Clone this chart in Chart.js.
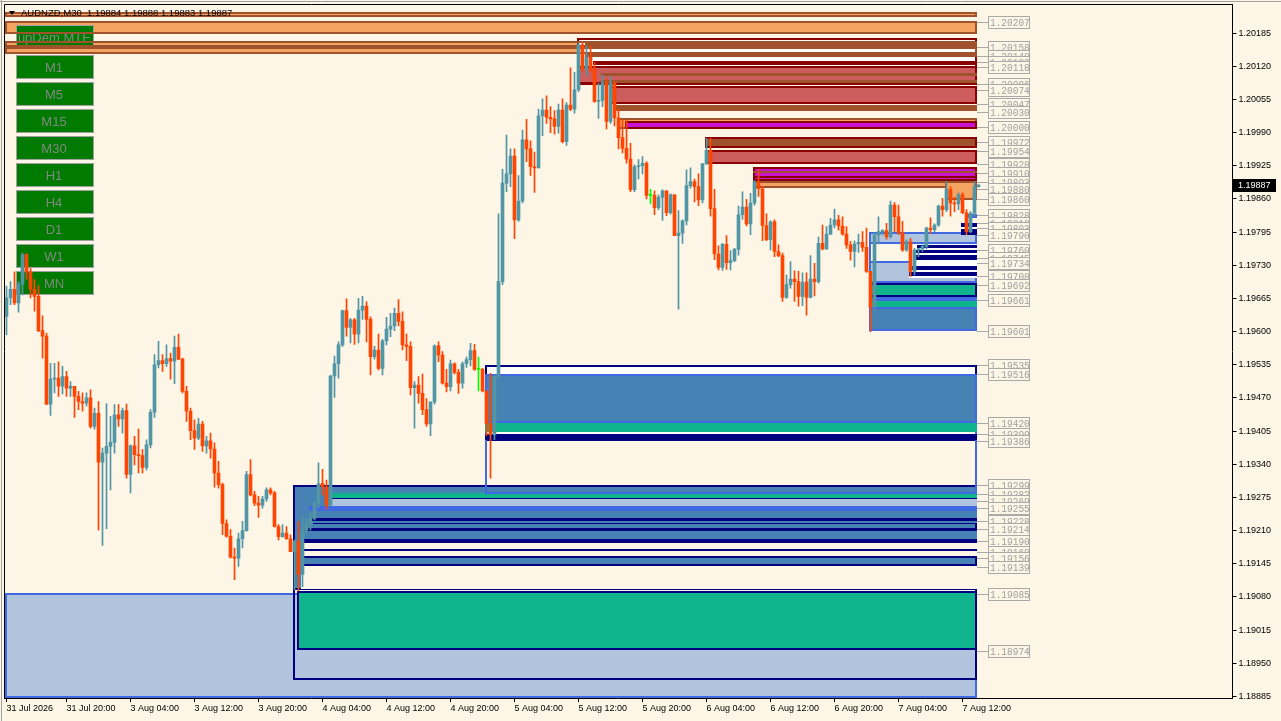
<!DOCTYPE html>
<html>
<head>
<meta charset="utf-8">
<script src="https://cdn.jsdelivr.net/npm/chart.js@4.4.1/dist/chart.umd.min.js"></script>
<style>
  html, body { margin: 0; padding: 0; background: #FDF5E6; overflow: hidden; }
  canvas { display: block; }
</style>
</head>
<body>
<canvas id="chart" width="1281" height="721"></canvas>
<script>
// AUDNZD M30 candles (open = previous close)
const firstOpen = 1.19630;
const closes = [
  1.19666, 1.19683, 1.19656, 1.19693, 1.19751, 1.19717, 1.19683, 1.19669, 1.19602, 1.19591,
  1.19458, 1.19507, 1.19509, 1.19493, 1.19512, 1.19489, 1.19493, 1.19473, 1.19463, 1.19460,
  1.19470, 1.19414, 1.19440, 1.19344, 1.19362, 1.19375, 1.19383, 1.19437, 1.19429, 1.19445,
  1.19320, 1.19376, 1.19359, 1.19357, 1.19334, 1.19378, 1.19442, 1.19535, 1.19543, 1.19537,
  1.19547, 1.19542, 1.19569, 1.19546, 1.19483, 1.19444, 1.19406, 1.19391, 1.19419, 1.19376,
  1.19386, 1.19370, 1.19323, 1.19300, 1.19224, 1.19199, 1.19158, 1.19156, 1.19194, 1.19210,
  1.19320, 1.19280, 1.19264, 1.19260, 1.19272, 1.19290, 1.19284, 1.19218, 1.19198, 1.19205,
  1.19194, 1.19169, 1.19189, 1.19124, 1.19211, 1.19223, 1.19234, 1.19264, 1.19302, 1.19296,
  1.19260, 1.19513, 1.19537, 1.19574, 1.19641, 1.19608, 1.19623, 1.19595, 1.19642, 1.19650,
  1.19624, 1.19551, 1.19564, 1.19528, 1.19582, 1.19605, 1.19611, 1.19636, 1.19620, 1.19574,
  1.19571, 1.19490, 1.19495, 1.19479, 1.19447, 1.19419, 1.19462, 1.19572, 1.19554, 1.19499,
  1.19492, 1.19537, 1.19520, 1.19499, 1.19537, 1.19545, 1.19563, 1.19526, 1.19526, 1.19484,
  1.19420, 1.19398, 1.19512, 1.19698, 1.19891, 1.19909, 1.19944, 1.19819, 1.19856, 1.19976,
  1.19958, 1.19923, 1.19921, 1.20023, 1.20034, 1.20020, 1.20017, 1.20002, 1.20034, 1.19972,
  1.20044, 1.20036, 1.20074, 1.20162, 1.20114, 1.20138, 1.20114, 1.20051, 1.20053, 1.20087,
  1.20012, 1.20087, 1.20019, 1.19980, 1.19959, 1.19938, 1.19878, 1.19923, 1.19925, 1.19930,
  1.19867, 1.19867, 1.19843, 1.19863, 1.19876, 1.19833, 1.19868, 1.19788, 1.19793, 1.19817,
  1.19886, 1.19894, 1.19884, 1.19858, 1.19929, 1.19955, 1.19841, 1.19752, 1.19726, 1.19771,
  1.19735, 1.19739, 1.19761, 1.19829, 1.19844, 1.19811, 1.19852, 1.19893, 1.19880, 1.19808,
  1.19780, 1.19815, 1.19757, 1.19749, 1.19667, 1.19692, 1.19703, 1.19698, 1.19669, 1.19697,
  1.19667, 1.19703, 1.19698, 1.19773, 1.19762, 1.19791, 1.19809, 1.19819, 1.19807, 1.19791,
  1.19770, 1.19757, 1.19772, 1.19775, 1.19765, 1.19718, 1.19648, 1.19789, 1.19796, 1.19798,
  1.19786, 1.19848, 1.19825, 1.19794, 1.19760, 1.19776, 1.19718, 1.19760, 1.19762, 1.19767,
  1.19803, 1.19800, 1.19809, 1.19846, 1.19839, 1.19879, 1.19852, 1.19850, 1.19868, 1.19833,
  1.19796, 1.19832, 1.19884, 1.19887
];
const highs = [
  1.19689, 1.19698, 1.19717, 1.19698, 1.19754, 1.19753, 1.19724, 1.19702, 1.19690, 1.19631,
  1.19597, 1.19538, 1.19538, 1.19541, 1.19532, 1.19522, 1.19502, 1.19493, 1.19483, 1.19480,
  1.19480, 1.19486, 1.19450, 1.19463, 1.19372, 1.19459, 1.19434, 1.19457, 1.19457, 1.19450,
  1.19458, 1.19378, 1.19395, 1.19409, 1.19369, 1.19388, 1.19447, 1.19555, 1.19581, 1.19555,
  1.19574, 1.19558, 1.19591, 1.19595, 1.19548, 1.19493, 1.19450, 1.19427, 1.19430, 1.19424,
  1.19395, 1.19401, 1.19382, 1.19346, 1.19303, 1.19231, 1.19212, 1.19176, 1.19205, 1.19228,
  1.19326, 1.19349, 1.19287, 1.19277, 1.19277, 1.19294, 1.19294, 1.19287, 1.19222, 1.19222,
  1.19218, 1.19202, 1.19192, 1.19228, 1.19238, 1.19234, 1.19244, 1.19267, 1.19343, 1.19330,
  1.19309, 1.19515, 1.19552, 1.19580, 1.19642, 1.19664, 1.19626, 1.19626, 1.19665, 1.19669,
  1.19659, 1.19629, 1.19571, 1.19595, 1.19585, 1.19628, 1.19636, 1.19646, 1.19663, 1.19639,
  1.19595, 1.19580, 1.19502, 1.19512, 1.19517, 1.19469, 1.19463, 1.19574, 1.19580, 1.19561,
  1.19526, 1.19544, 1.19539, 1.19526, 1.19541, 1.19550, 1.19577, 1.19575, 1.19550, 1.19528,
  1.19430, 1.19518, 1.19515, 1.19831, 1.19918, 1.19985, 1.19958, 1.19958, 1.19906, 1.19995,
  1.20016, 1.19974, 1.19952, 1.20036, 1.20056, 1.20062, 1.20041, 1.20033, 1.20046, 1.20056,
  1.20049, 1.20117, 1.20108, 1.20165, 1.20166, 1.20160, 1.20160, 1.20127, 1.20087, 1.20103,
  1.20096, 1.20100, 1.20090, 1.20036, 1.20015, 1.20015, 1.19969, 1.19927, 1.19937, 1.19943,
  1.19933, 1.19879, 1.19876, 1.19868, 1.19878, 1.19876, 1.19870, 1.19868, 1.19837, 1.19819,
  1.19917, 1.19921, 1.19899, 1.19909, 1.19930, 1.19979, 1.19979, 1.19879, 1.19768, 1.19773,
  1.19788, 1.19759, 1.19763, 1.19846, 1.19874, 1.19859, 1.19871, 1.19896, 1.19918, 1.19884,
  1.19831, 1.19817, 1.19819, 1.19770, 1.19754, 1.19711, 1.19737, 1.19719, 1.19718, 1.19715,
  1.19715, 1.19749, 1.19734, 1.19785, 1.19809, 1.19806, 1.19822, 1.19840, 1.19828, 1.19825,
  1.19806, 1.19777, 1.19778, 1.19791, 1.19796, 1.19803, 1.19718, 1.19793, 1.19825, 1.19800,
  1.19812, 1.19856, 1.19853, 1.19848, 1.19816, 1.19780, 1.19783, 1.19763, 1.19763, 1.19770,
  1.19805, 1.19823, 1.19811, 1.19848, 1.19861, 1.19894, 1.19884, 1.19863, 1.19872, 1.19872,
  1.19839, 1.19835, 1.19894, 1.19888
];
const lows = [
  1.19594, 1.19653, 1.19653, 1.19638, 1.19672, 1.19703, 1.19666, 1.19640, 1.19600, 1.19548,
  1.19457, 1.19436, 1.19480, 1.19473, 1.19478, 1.19473, 1.19473, 1.19432, 1.19447, 1.19444,
  1.19454, 1.19411, 1.19409, 1.19211, 1.19181, 1.19214, 1.19290, 1.19362, 1.19414, 1.19401,
  1.19313, 1.19284, 1.19339, 1.19323, 1.19323, 1.19329, 1.19372, 1.19432, 1.19529, 1.19522,
  1.19532, 1.19507, 1.19498, 1.19545, 1.19480, 1.19424, 1.19388, 1.19369, 1.19388, 1.19365,
  1.19362, 1.19352, 1.19295, 1.19293, 1.19202, 1.19197, 1.19156, 1.19114, 1.19140, 1.19176,
  1.19209, 1.19278, 1.19259, 1.19236, 1.19254, 1.19267, 1.19280, 1.19217, 1.19192, 1.19197,
  1.19193, 1.19169, 1.19094, 1.19092, 1.19100, 1.19205, 1.19211, 1.19231, 1.19254, 1.19280,
  1.19252, 1.19258, 1.19471, 1.19509, 1.19571, 1.19591, 1.19578, 1.19575, 1.19578, 1.19624,
  1.19580, 1.19515, 1.19546, 1.19525, 1.19515, 1.19574, 1.19590, 1.19602, 1.19611, 1.19564,
  1.19543, 1.19476, 1.19411, 1.19460, 1.19437, 1.19414, 1.19396, 1.19458, 1.19541, 1.19497,
  1.19482, 1.19484, 1.19517, 1.19479, 1.19489, 1.19530, 1.19533, 1.19524, 1.19484, 1.19482,
  1.19396, 1.19313, 1.19388, 1.19509, 1.19692, 1.19874, 1.19884, 1.19782, 1.19816, 1.19852,
  1.19933, 1.19906, 1.19873, 1.19921, 1.19984, 1.20008, 1.19990, 1.19987, 1.19989, 1.19970,
  1.19965, 1.20033, 1.20028, 1.20070, 1.20110, 1.20101, 1.20110, 1.20049, 1.20018, 1.20041,
  1.19997, 1.20008, 1.20003, 1.19958, 1.19950, 1.19930, 1.19874, 1.19874, 1.19899, 1.19909,
  1.19860, 1.19850, 1.19829, 1.19839, 1.19818, 1.19827, 1.19830, 1.19788, 1.19644, 1.19773,
  1.19809, 1.19881, 1.19854, 1.19847, 1.19852, 1.19927, 1.19826, 1.19741, 1.19721, 1.19720,
  1.19722, 1.19721, 1.19737, 1.19750, 1.19820, 1.19807, 1.19790, 1.19848, 1.19865, 1.19778,
  1.19778, 1.19760, 1.19747, 1.19747, 1.19659, 1.19665, 1.19685, 1.19659, 1.19650, 1.19651,
  1.19632, 1.19666, 1.19670, 1.19695, 1.19760, 1.19761, 1.19790, 1.19803, 1.19799, 1.19789,
  1.19763, 1.19740, 1.19727, 1.19755, 1.19757, 1.19716, 1.19600, 1.19646, 1.19772, 1.19790,
  1.19781, 1.19783, 1.19796, 1.19790, 1.19757, 1.19757, 1.19708, 1.19711, 1.19747, 1.19757,
  1.19762, 1.19793, 1.19796, 1.19806, 1.19826, 1.19835, 1.19826, 1.19835, 1.19839, 1.19831,
  1.19790, 1.19794, 1.19826, 1.19883
];

const xTickIdx = [0, 15, 31, 47, 63, 79, 95, 111, 127, 143, 159, 175, 191, 207, 223, 239];
const xTickLabels = ['31 Jul 2026', '31 Jul 20:00', '3 Aug 04:00', '3 Aug 12:00', '3 Aug 20:00',
  '4 Aug 04:00', '4 Aug 12:00', '4 Aug 20:00', '5 Aug 04:00', '5 Aug 12:00', '5 Aug 20:00',
  '6 Aug 04:00', '6 Aug 12:00', '6 Aug 20:00', '7 Aug 04:00', '7 Aug 12:00'];
const yTicks = [1.20185, 1.20120, 1.20055, 1.19990, 1.19925, 1.19860, 1.19795, 1.19730, 1.19665,
  1.19600, 1.19535, 1.19470, 1.19405, 1.19340, 1.19275, 1.19210, 1.19145, 1.19080, 1.19015,
  1.18950, 1.18885];

// supply / demand zones: start bar (-1 = left edge), end bar (null = last bar), top, bottom, kind
const zoneStart = [-1, -1, -1, -1, -1,
  72, 72, 74, 74, 74, 74, 74, 75, 76, 76, 76, 76, 77, 81, 81, 81, 73,
  120, 120, 120, 120, 120,
  216, 216, 216, 226, 228, 227, 227, 226, 226, 216, 216, 216, 216, 240, 239, 239,
  143, 143, 145, 145, 147, 149, 149, 151, 152, 153, 155,
  175, 175, 187, 187, 187, 187, 235];
const zoneEnd = [null, null, null, null, null,
  null, null, null, null, null, null, null, null, null, null, null, null, null, null, null, null, null,
  null, null, null, null, null,
  null, null, null, null, null, null, null, null, null, null, null, null, null, null, null, null,
  null, null, null, null, null, null, null, null, null, null, null,
  null, null, null, null, null, null, null];
const zoneTop = [1.20226, 1.20209, 1.20170, 1.20158, 1.19088,
  1.19300, 1.19300, 1.19210, 1.19194, 1.19186, 1.19174, 1.19160, 1.19216, 1.19235, 1.19258,
  1.19248, 1.19229, 1.19225, 1.19284, 1.19274, 1.19271, 1.19091,
  1.19535, 1.19516, 1.19516, 1.19420, 1.19399,
  1.19795, 1.19795, 1.19738, 1.19772, 1.19770, 1.19760, 1.19750, 1.19729, 1.19717,
  1.19695, 1.19668, 1.19660, 1.19648, 1.19831, 1.19813, 1.19805,
  1.20176, 1.20121, 1.20166, 1.20146, 1.20130, 1.20107, 1.20093, 1.20081, 1.20044, 1.20019, 1.20013,
  1.19981, 1.19956, 1.19923, 1.19915, 1.19905, 1.19895, 1.19895];
const zoneBottom = [1.20217, 1.20183, 1.20158, 1.20144, 1.18882,
  1.18917, 1.19093, 1.19194, 1.19186, 1.19096, 1.19171, 1.19140, 1.19210, 1.19229, 1.19248,
  1.19235, 1.19222, 1.19222, 1.19274, 1.19271, 1.19258, 1.18977,
  1.19386, 1.19282, 1.19420, 1.19403, 1.19388,
  1.19601, 1.19772, 1.19695, 1.19705, 1.19763, 1.19754, 1.19740, 1.19721, 1.19709,
  1.19668, 1.19660, 1.19648, 1.19601, 1.19823, 1.19789, 1.19802,
  1.20083, 1.20085, 1.20158, 1.20138, 1.20123, 1.20101, 1.20087, 1.20046, 1.20032, 1.19997, 1.19997,
  1.19960, 1.19929, 1.19895, 1.19911, 1.19901, 1.19882, 1.19858];
const zoneKind = ['mtf', 'mtf', 'mtf', 'mtf', 'lsb',
  'outlineNavy', 'steelNavy', 'steel', 'navy', 'cream', 'navy', 'steelNavy', 'navy', 'navy', 'royal',
  'steel', 'steel', 'navy', 'green', 'navy', 'lsbPlain', 'greenNavy',
  'whiteNavy', 'outlineRoyal', 'steel', 'green', 'navy',
  'outlineRoyal', 'lsb', 'lsb', 'white', 'navy', 'navy', 'navy', 'navy', 'navy',
  'greenNavy', 'royal', 'green', 'steel', 'royal', 'navy', 'white',
  'whiteRed', 'indian', 'sienna', 'sienna', 'darkred', 'sienna', 'sienna', 'indian', 'sienna', 'sandy', 'magenta',
  'siennaRed', 'indian', 'magenta', 'sienna', 'darkred', 'sandy', 'sandy'];

const levelPrices = [1.20207, 1.20158, 1.20140, 1.20129, 1.20118, 1.20086, 1.20074, 1.20047, 1.20030,
  1.20000, 1.19972, 1.19954, 1.19928, 1.19910, 1.19893, 1.19880, 1.19860, 1.19828, 1.19812,
  1.19803, 1.19790, 1.19760, 1.19745, 1.19734, 1.19708, 1.19692, 1.19661, 1.19601, 1.19535,
  1.19516, 1.19420, 1.19399, 1.19386, 1.19299, 1.19282, 1.19269, 1.19255, 1.19228, 1.19214,
  1.19190, 1.19169, 1.19156, 1.19139, 1.19085, 1.18974];

const buttons = ['upDem MTF', 'M1', 'M5', 'M15', 'M30', 'H1', 'H4', 'D1', 'W1', 'MN'];
const titleText = 'AUDNZD,M30  1.19884 1.19888 1.19883 1.19887';
const lastPrice = 1.19887;

const BG = '#FDF5E6';
const STYLE = {
  mtf: { fill: '#F4A460', line: '#A0522D' },
  sandy: { fill: '#F4A460', line: '#A0522D' },
  whiteRed: { fill: '#FFFFFF', line: '#8B0000' },
  indian: { fill: '#CD5C5C', line: '#8B0000' },
  sienna: { fill: '#A0522D' },
  darkred: { fill: '#8B0000' },
  siennaRed: { fill: '#A0522D', line: '#8B0000' },
  magenta: { fill: '#C814D2', line: '#8B0000' },
  lsb: { fill: '#B0C4DE', line: '#4169E1' },
  lsbPlain: { fill: '#B0C4DE' },
  outlineNavy: { line: '#000080' },
  outlineRoyal: { line: '#4169E1' },
  steel: { fill: '#4682B4' },
  steelNavy: { fill: '#4682B4', line: '#000080' },
  green: { fill: '#0FB48C' },
  greenNavy: { fill: '#0FB48C', line: '#000080' },
  royal: { fill: '#4169E1' },
  navy: { fill: '#000080' },
  white: { fill: '#FFFFFF' },
  cream: { fill: BG },
  whiteNavy: { fill: '#FFFFFF', line: '#000080' }
};
// zones where the royal-blue outline is also wanted around a plain steel fill
const STEEL_BOX = { fill: '#4682B4', line: '#4169E1' };

const BULL = '#5296A5';
const BEAR = '#FF4500';
const DOJI = '#00FF00';

const lastBar = closes.length - 1;
const opens = closes.map((c, i) => (i === 0 ? firstOpen : closes[i - 1]));
const wicks = lows.map((l, i) => [l, highs[i]]);
const bodies = closes.map((c, i) => [opens[i], c]);
const barColors = closes.map((c, i) => (c === opens[i] ? DOJI : c > opens[i] ? BULL : BEAR));

const slots = [];
for (let i = 0; i < 307; i++) slots.push(i);

const axisFont = { family: 'Liberation Sans', size: 9 };

function drawZone(ctx, area, x, y, i, rightX, bordersOnly) {
  let st = STYLE[zoneKind[i]];
  // the two big steel boxes (mid group and right group) carry a royal-blue frame
  if (zoneKind[i] === 'steel' && (zoneStart[i] === 120 || zoneStart[i] === 216)) st = STEEL_BOX;
  const x0 = zoneStart[i] < 0 ? Math.round(area.left) : Math.round(x.getPixelForValue(zoneStart[i]) - 2);
  const x1 = zoneEnd[i] == null ? rightX : Math.round(x.getPixelForValue(zoneEnd[i]) - 2);
  const y0 = Math.round(y.getPixelForValue(zoneTop[i]));
  const y1 = Math.round(y.getPixelForValue(zoneBottom[i]));
  if (st.fill && !bordersOnly) {
    ctx.fillStyle = st.fill;
    ctx.fillRect(x0, y0, x1 - x0, Math.max(1, y1 - y0));
  }
  if (st.line && y1 - y0 > 3) {
    ctx.strokeStyle = st.line;
    ctx.lineWidth = 2;
    ctx.strokeRect(x0 + 1, y0 + 1, x1 - x0 - 2, y1 - y0 - 2);
  }
}

const zonePlugin = {
  id: 'zones',
  beforeDatasetsDraw(chart) {
    const { ctx, chartArea: a, scales: { x, y } } = chart;
    const rightX = Math.round(x.getPixelForValue(lastBar) - 1.5);
    ctx.save();
    ctx.beginPath();
    ctx.rect(a.left, a.top, a.right - a.left, a.bottom - a.top);
    ctx.clip();
    for (let i = 0; i < zoneKind.length; i++) drawZone(ctx, a, x, y, i, rightX, false);

    // timeframe buttons
    ctx.font = '13px "Liberation Sans"';
    ctx.textAlign = 'center';
    ctx.textBaseline = 'middle';
    buttons.forEach((b, i) => {
      const top = i === 0 ? 25 : 55 + (i - 1) * 27;
      ctx.fillStyle = '#007A00';
      ctx.fillRect(16, top, 78, 24);
      ctx.strokeStyle = '#A0A0A0';
      ctx.lineWidth = 1;
      ctx.strokeRect(16.5, top + 0.5, 77, 23);
      ctx.fillStyle = '#7F8A7F';
      ctx.fillText(b, 54, top + 13);
    });
    // MTF zone borders run across the buttons
    for (let i = 0; i < zoneKind.length; i++) {
      if (zoneKind[i] === 'mtf') drawZone(ctx, a, x, y, i, rightX, true);
    }
    ctx.restore();
  },
  afterDraw(chart) {
    const { ctx, scales: { x, y } } = chart;
    const rightX = Math.round(x.getPixelForValue(lastBar) - 1.5);
    ctx.save();
    // level connectors and boxes
    ctx.strokeStyle = '#A9A9A9';
    ctx.lineWidth = 1;
    levelPrices.forEach(p => {
      const py = Math.round(y.getPixelForValue(p)) + 0.5;
      ctx.beginPath();
      ctx.moveTo(rightX, py);
      ctx.lineTo(988, py);
      ctx.stroke();
    });
    ctx.font = '11px "Liberation Mono"';
    ctx.textAlign = 'left';
    ctx.textBaseline = 'middle';
    levelPrices.forEach(p => {
      const py = Math.round(y.getPixelForValue(p));
      ctx.fillStyle = BG;
      ctx.fillRect(988, py - 6, 42, 13);
      ctx.strokeStyle = '#A9A9A9';
      ctx.strokeRect(988.5, py - 5.5, 41, 12);
      ctx.fillStyle = '#A0A0A0';
      ctx.save();
      ctx.translate(990, py + 1);
      ctx.scale(0.86, 1.05);
      ctx.fillText(p.toFixed(5), 0, 0);
      ctx.restore();
    });

    // frame
    ctx.strokeStyle = '#000';
    ctx.beginPath();
    ctx.moveTo(4.5, 698);
    ctx.lineTo(4.5, 4.5);
    ctx.lineTo(1233, 4.5);
    ctx.stroke();
    ctx.strokeStyle = '#A0A0A0';
    ctx.beginPath();
    ctx.moveTo(0, 1.5);
    ctx.lineTo(1281, 1.5);
    ctx.moveTo(1.5, 0);
    ctx.lineTo(1.5, 721);
    ctx.stroke();

    // title
    ctx.fillStyle = '#000';
    ctx.beginPath();
    ctx.moveTo(9, 11);
    ctx.lineTo(15, 11);
    ctx.lineTo(12, 15);
    ctx.closePath();
    ctx.fill();
    ctx.font = '9.5px "Liberation Sans"';
    ctx.textBaseline = 'middle';
    ctx.fillText(titleText, 21, 13);

    // current price tag
    const py = Math.round(y.getPixelForValue(lastPrice));
    ctx.fillStyle = '#000';
    ctx.fillRect(1233, py - 6, 43, 13);
    ctx.fillStyle = '#FFF';
    ctx.font = '9px "Liberation Sans"';
    ctx.fillText(lastPrice.toFixed(5), 1238, py + 1);
    ctx.restore();
  }
};

new Chart(document.getElementById('chart').getContext('2d'), {
  type: 'bar',
  data: {
    labels: slots,
    datasets: [
      { data: wicks, backgroundColor: barColors, barThickness: 1, grouped: false, borderWidth: 0 },
      { data: bodies, backgroundColor: barColors, barThickness: 3, grouped: false, borderWidth: 0, minBarLength: 1 }
    ]
  },
  options: {
    responsive: false,
    animation: false,
    devicePixelRatio: 1,
    layout: { padding: { left: 4.5, top: 4, right: 0, bottom: 0 } },
    plugins: { legend: { display: false }, tooltip: { enabled: false } },
    scales: {
      x: {
        offset: true,
        grid: { display: true, offset: false, drawOnChartArea: false, drawTicks: true, tickLength: 4, color: '#000' },
        border: { display: true, color: '#000' },
        ticks: {
          autoSkip: false, maxRotation: 0, align: 'start', padding: 1,
          font: axisFont, color: '#000',
          callback: (v, i) => xTickLabels[i]
        },
        afterBuildTicks: s => { s.ticks = xTickIdx.map(v => ({ value: v })); },
        afterFit: s => { s.height = 23; s.paddingLeft = 0; s.paddingRight = 0; }
      },
      y: {
        position: 'right',
        min: 1.18882,
        max: 1.20242,
        grid: { drawOnChartArea: false, drawTicks: true, tickLength: 4, color: '#000' },
        border: { display: true, color: '#000' },
        ticks: { padding: 2, font: axisFont, color: '#000', callback: v => Number(v).toFixed(5) },
        afterBuildTicks: s => { s.ticks = yTicks.map(v => ({ value: v })); },
        afterFit: s => { s.width = 48.5; s.paddingTop = 0; s.paddingBottom = 0; }
      }
    }
  },
  plugins: [zonePlugin]
});
</script>
</body>
</html>
